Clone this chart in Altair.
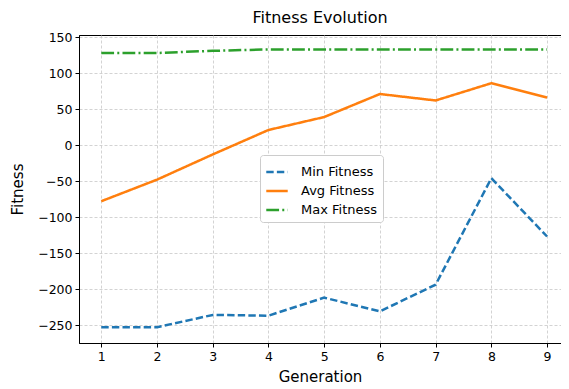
import altair as alt
import pandas as pd

generations = [1, 2, 3, 4, 5, 6, 7, 8, 9]
min_fitness = [-253, -253, -236, -237, -212, -231, -194, -46, -127]
avg_fitness = [-78, -48, -13, 21, 39, 71, 62, 86, 66]
max_fitness = [128, 128, 131, 133, 133, 133, 133, 133, 133]
series_names = ["Min Fitness", "Avg Fitness", "Max Fitness"]
series_colors = ["#1f77b4", "#ff7f0e", "#2ca02c"]
series_dashes = [[7.4, 3.2], [1, 0], [12.8, 3.2, 2, 3.2]]
x_ticks = [1, 2, 3, 4, 5, 6, 7, 8, 9]
y_ticks = [-250, -200, -150, -100, -50, 0, 50, 100, 150]

rows = []
for name, vals in zip(series_names, [min_fitness, avg_fitness, max_fitness]):
    for g, v in zip(generations, vals):
        rows.append({"Generation": g, "Fitness": v, "Series": name})
df = pd.DataFrame(rows)

FONT = "DejaVu Sans"

chart = alt.Chart(df).mark_line(strokeWidth=2.5).encode(
    x=alt.X("Generation:Q",
            scale=alt.Scale(domain=[0.6, 9.25], nice=False, zero=False),
            axis=alt.Axis(values=x_ticks, title="Generation", format="d")),
    y=alt.Y("Fitness:Q",
            scale=alt.Scale(domain=[-275, 153], nice=False, zero=False),
            axis=alt.Axis(values=y_ticks, title="Fitness")),
    color=alt.Color("Series:N",
                    scale=alt.Scale(domain=series_names, range=series_colors),
                    legend=alt.Legend(title=None, orient="none", legendX=181, legendY=120,
                                      symbolType="stroke", symbolSize=460,
                                      symbolStrokeWidth=2.5, labelFont=FONT,
                                      labelFontSize=13, labelColor="black",
                                      strokeColor="#cccccc", fillColor="white",
                                      cornerRadius=3, padding=5, rowPadding=0,
                                      labelOffset=12)),
    strokeDash=alt.StrokeDash("Series:N",
                              scale=alt.Scale(domain=series_names, range=series_dashes),
                              legend=None),
    detail="Series:N",
).properties(
    width=482,
    height=308,
    title=alt.Title("Fitness Evolution", font=FONT, fontSize=16, fontWeight="normal",
                    color="black", offset=5),
    autosize=alt.AutoSizeParams(type="none"),
    padding={"left": 71, "top": 27, "right": 0, "bottom": 46},
).configure_view(
    stroke="black", strokeWidth=1,
).configure_axis(
    labelFont=FONT, labelFontSize=12.5, labelColor="black",
    titleFont=FONT, titleFontSize=15, titleFontWeight="normal", titleColor="black",
    domainColor="black", tickColor="black", tickSize=4, labelPadding=3,
    grid=True, gridColor="#c8c8c8", gridDash=[3, 2], gridWidth=0.8,
).configure_axisX(
    titlePadding=7,
).configure_axisY(
    titlePadding=12,
)

chart.save("out.html", embed_options={"renderer": "svg", "actions": False})
